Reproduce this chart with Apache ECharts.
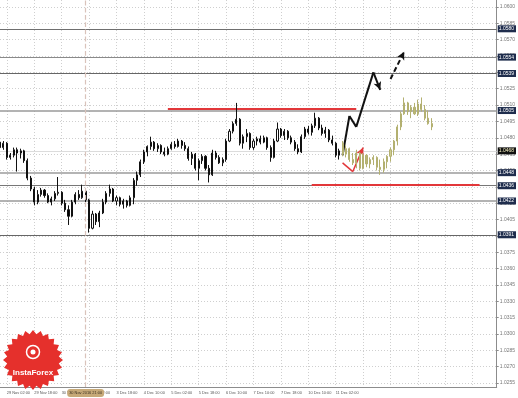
<!DOCTYPE html>
<html><head><meta charset="utf-8">
<script src="https://cdn.jsdelivr.net/npm/echarts@6/dist/echarts.min.js"></script>
<style>html,body{margin:0;padding:0;background:#fff}#c{width:518px;height:398px}</style>
</head><body><div id="c"></div>
<script>
// ---- data ----
const slotCount = 146;                // 2-hour slots across the chart
const firstLabelSlot = 2;
const labelEvery = 8;
const timeLabels = ['29 Nov 02:00','29 Nov 18:00','30 Nov 10:00','1 Dec 02:00','3 Dec 18:00','4 Dec 10:00',
  '5 Dec 02:00','5 Dec 18:00','6 Dec 10:00','7 Dec 10:00','7 Dec 18:00','10 Dec 10:00','11 Dec 02:00'];
const cursorSlot = 25;
const cursorLabel = '30 Nov 2016 21:00';
const yTicks = [1.0600,1.0585,1.0570,1.0555,1.0540,1.0525,1.0510,1.0495,1.0480,1.0465,1.0450,1.0435,
  1.0420,1.0405,1.0390,1.0375,1.0360,1.0345,1.0330,1.0315,1.0300,1.0285,1.0270,1.0255];
const yMin = 1.025133, yMax = 1.060642;

// [open, close, low, high]
const blackCandles = [
[1.0476,1.0471,1.0469,1.0478],[1.0471,1.0475,1.0469,1.0477],[1.0475,1.0462,1.0460,1.0476],[1.0462,1.0464,1.0460,1.0466],
[1.0464,1.0469,1.0462,1.0471],[1.0469,1.0466,1.0449,1.0471],[1.0466,1.0468,1.0461,1.0470],[1.0468,1.0459,1.0457,1.0469],
[1.0459,1.0443,1.0441,1.0461],[1.0443,1.0433,1.0431,1.0445],[1.0433,1.0421,1.0418,1.0435],[1.0421,1.0428,1.0419,1.0432],
[1.0428,1.0432,1.0426,1.0434],[1.0432,1.0427,1.0425,1.0433],[1.0427,1.0421,1.0420,1.0429],[1.0421,1.0424,1.0418,1.0426],
[1.0424,1.0429,1.0422,1.0431],[1.0429,1.0430,1.0427,1.0444],[1.0430,1.0420,1.0418,1.0431],[1.0420,1.0414,1.0412,1.0423],
[1.0414,1.0408,1.0400,1.0418],[1.0408,1.0421,1.0407,1.0423],[1.0421,1.0428,1.0419,1.0430],[1.0428,1.0425,1.0423,1.0432],
[1.0425,1.0431,1.0424,1.0437],[1.0431,1.0423,1.0421,1.0432],[1.0423,1.0397,1.0393,1.0424],[1.0397,1.0410,1.0396,1.0413],
[1.0410,1.0403,1.0400,1.0411],[1.0403,1.0411,1.0398,1.0413],[1.0411,1.0421,1.0410,1.0424],[1.0421,1.0429,1.0419,1.0431],
[1.0429,1.0433,1.0426,1.0437],[1.0433,1.0422,1.0421,1.0434],[1.0422,1.0425,1.0418,1.0427],[1.0425,1.0419,1.0417,1.0426],
[1.0419,1.0422,1.0415,1.0424],[1.0422,1.0418,1.0416,1.0423],[1.0418,1.0425,1.0417,1.0427],[1.0425,1.0441,1.0419,1.0443],
[1.0441,1.0446,1.0436,1.0449],[1.0446,1.0458,1.0444,1.0460],[1.0458,1.0467,1.0456,1.0469],[1.0467,1.0472,1.0463,1.0473],
[1.0472,1.0476,1.0469,1.0481],[1.0476,1.0470,1.0468,1.0477],[1.0470,1.0473,1.0467,1.0475],[1.0473,1.0467,1.0465,1.0474],
[1.0467,1.0465,1.0463,1.0471],[1.0465,1.0470,1.0464,1.0472],[1.0470,1.0474,1.0469,1.0476],[1.0474,1.0472,1.0470,1.0477],
[1.0472,1.0477,1.0471,1.0479],[1.0477,1.0473,1.0470,1.0478],[1.0473,1.0470,1.0468,1.0476],[1.0470,1.0461,1.0459,1.0472],
[1.0461,1.0465,1.0455,1.0467],[1.0465,1.0452,1.0450,1.0466],[1.0452,1.0459,1.0441,1.0461],[1.0459,1.0463,1.0456,1.0465],
[1.0463,1.0452,1.0450,1.0464],[1.0452,1.0446,1.0439,1.0455],[1.0446,1.0466,1.0445,1.0469],[1.0466,1.0462,1.0460,1.0468],
[1.0462,1.0457,1.0456,1.0464],[1.0457,1.0460,1.0454,1.0462],[1.0460,1.0477,1.0458,1.0479],[1.0477,1.0486,1.0476,1.0488],
[1.0486,1.0493,1.0484,1.0495],[1.0493,1.0497,1.0491,1.0512],[1.0497,1.0475,1.0473,1.0498],[1.0475,1.0481,1.0470,1.0483],
[1.0481,1.0484,1.0476,1.0488],[1.0484,1.0471,1.0469,1.0485],[1.0471,1.0477,1.0469,1.0479],[1.0477,1.0479,1.0473,1.0481],
[1.0479,1.0476,1.0474,1.0482],[1.0476,1.0480,1.0475,1.0482],[1.0480,1.0471,1.0469,1.0481],[1.0471,1.0462,1.0458,1.0473],
[1.0462,1.0477,1.0461,1.0479],[1.0477,1.0488,1.0476,1.0494],[1.0488,1.0482,1.0480,1.0489],[1.0482,1.0486,1.0478,1.0488],
[1.0486,1.0480,1.0478,1.0487],[1.0480,1.0476,1.0474,1.0482],[1.0476,1.0470,1.0468,1.0478],[1.0470,1.0467,1.0465,1.0474],
[1.0467,1.0481,1.0466,1.0483],[1.0481,1.0488,1.0479,1.0490],[1.0488,1.0485,1.0483,1.0491],[1.0485,1.0491,1.0482,1.0493],
[1.0491,1.0498,1.0489,1.0503],[1.0498,1.0489,1.0487,1.0499],[1.0489,1.0484,1.0482,1.0492],[1.0484,1.0487,1.0480,1.0490],
[1.0487,1.0478,1.0476,1.0488],[1.0478,1.0475,1.0473,1.0482],[1.0475,1.0464,1.0462,1.0476],[1.0464,1.0468,1.0460,1.0470]
];
const khakiStart = 100;
const khakiCandles = [
[1.0475,1.0465,1.0463,1.0477],[1.0465,1.0470,1.0462,1.0473],[1.0470,1.0460,1.0458,1.0471],[1.0460,1.0457,1.0455,1.0466],
[1.0457,1.0466,1.0452,1.0469],[1.0466,1.0452,1.0450,1.0467],[1.0452,1.0464,1.0451,1.0466],[1.0464,1.0456,1.0453,1.0465],
[1.0456,1.0460,1.0452,1.0462],[1.0460,1.0462,1.0455,1.0464],[1.0462,1.0453,1.0450,1.0463],[1.0453,1.0451,1.0446,1.0460],
[1.0451,1.0458,1.0448,1.0461],[1.0458,1.0463,1.0452,1.0464],[1.0463,1.0469,1.0458,1.0471],[1.0469,1.0477,1.0464,1.0478],
[1.0477,1.0490,1.0473,1.0492],[1.0490,1.0502,1.0487,1.0504],[1.0502,1.0512,1.0501,1.0517],[1.0512,1.0504,1.0501,1.0513],
[1.0504,1.0508,1.0498,1.0510],[1.0508,1.0502,1.0501,1.0512],[1.0502,1.0511,1.0500,1.0515],[1.0511,1.0506,1.0504,1.0517],
[1.0506,1.0498,1.0496,1.0510],[1.0498,1.0493,1.0492,1.0505],[1.0493,1.0490,1.0487,1.0498]
];
const levelValues = [1.0580, 1.0554, 1.0539, 1.0505, 1.0468, 1.0448, 1.0436, 1.0422, 1.0391];
const currentPrice = 1.0468;
// red horizontal lines: [fromSlot, toSlot, price]
const redLevels = [[49, 103.5, 1.0507], [90.5, 140, 1.0437]];
// forecast paths: [slot, price]
const blackPath = [[100, 1.0464], [102, 1.0500], [104, 1.0490], [109, 1.0540], [111, 1.0524]];
const dashedPath = [[114, 1.0534], [118, 1.0559]];
const redPath = [[99.5, 1.0457], [102.5, 1.0449], [105.5, 1.0471]];

// ---- styles ----
const levelStyle = {
  '1.0580': ['#6f6f6f', 1], '1.0554': ['#8a8a8a', 1], '1.0539': ['#666666', 1], '1.0505': ['#9a9a9a', 1.5],
  '1.0468': ['#dcdcdc', 1], '1.0448': ['#b4b4b4', 2], '1.0436': ['#777777', 1], '1.0422': ['#9a9a9a', 1.5], '1.0391': ['#666666', 1]
};
const FONT = 'Liberation Sans';

const categories = Array.from({length: slotCount}, (_, i) => String(i));
const isLabelSlot = i => i >= firstLabelSlot && (i - firstLabelSlot) % labelEvery === 0;
const khakiData = categories.map((_, i) => {
  const k = i - khakiStart;
  return (k >= 0 && k < khakiCandles.length) ? khakiCandles[k] : '-';
});

function pathSegments(path, color, width, dashed) {
  const segs = [];
  for (let k = 0; k < path.length - 1; k++) {
    const last = k === path.length - 2;
    const ls = {color, width, type: dashed ? [5, 3] : 'solid'};
    segs.push([
      {coord: path[k], symbol: 'none', lineStyle: ls},
      {coord: path[k + 1], symbol: last ? 'arrow' : 'none', symbolSize: last ? [6, 8] : 0, lineStyle: ls}
    ]);
  }
  return segs;
}

const markData = [];
levelValues.forEach(v => {
  const st = levelStyle[v.toFixed(4)] || ['#888', 1];
  const isCur = v === currentPrice;
  markData.push({
    yAxis: v, symbol: 'none',
    lineStyle: {color: st[0], width: st[1], type: 'solid'},
    label: {show: true, position: 'end', distance: 1, formatter: v.toFixed(4),
      backgroundColor: isCur ? '#101010' : '#1f2d4d', color: isCur ? '#f5f0c0' : '#ffffff',
      fontSize: 5, fontFamily: FONT, padding: [1, 2, 1, 1]}
  });
});
redLevels.forEach(r => {
  markData.push([
    {coord: [r[0], r[2]], symbol: 'none', lineStyle: {color: '#e2373a', width: 2, type: 'solid'}},
    {coord: [r[1], r[2]], symbol: 'none'}
  ]);
});
pathSegments(blackPath, '#111111', 2, false).forEach(s => markData.push(s));
pathSegments(dashedPath, '#111111', 2, true).forEach(s => markData.push(s));
pathSegments(redPath, '#e2373a', 1.5, false).forEach(s => markData.push(s));

// logo outline (decoration)
const logoPts = [];
for (let k = 0; k < 48; k++) {
  const a = k / 48 * Math.PI * 2;
  const r = k % 2 ? 26 : 30;
  logoPts.push([33 + r * Math.cos(a), 360 + r * Math.sin(a)]);
}

const chart = echarts.init(document.getElementById('c'), null, {renderer: 'canvas'});
chart.setOption({
  animation: false,
  backgroundColor: '#ffffff',
  grid: {left: 0, right: 18, top: 0, bottom: 11, containLabel: false},
  axisPointer: {triggerOn: 'none'},
  xAxis: {
    type: 'category', data: categories, boundaryGap: false,
    axisLine: {show: true, lineStyle: {color: '#8c8c8c', width: 1}},
    axisTick: {show: false},
    axisLabel: {
      interval: (i) => isLabelSlot(i) && (i - firstLabelSlot) / labelEvery < timeLabels.length,
      formatter: (v, i) => timeLabels[(i - firstLabelSlot) / labelEvery] || '',
      align: 'left', fontSize: 3.9, color: '#555', fontFamily: FONT, margin: 3.5
    },
    splitLine: {show: true, interval: (i) => isLabelSlot(i), lineStyle: {color: '#cfcfcf', type: [1, 2], width: 1}},
    axisPointer: {
      show: true, value: cursorSlot, status: 'show', type: 'line', snap: false,
      lineStyle: {color: '#d9c3bb', width: 1.2},
      label: {show: true, formatter: () => cursorLabel, backgroundColor: '#c6a978', color: '#3a3020',
        fontSize: 3.9, fontFamily: FONT, padding: [2, 2], margin: 2},
      handle: {show: false}
    }
  },
  yAxis: {
    type: 'value', position: 'right', min: yMin, max: yMax, scale: true,
    axisLine: {show: true, lineStyle: {color: '#8c8c8c', width: 1}},
    axisTick: {show: true, length: 2, lineStyle: {color: '#8c8c8c'}, customValues: yTicks},
    axisLabel: {customValues: yTicks, formatter: v => v.toFixed(4), fontSize: 5, color: '#777', fontFamily: FONT, margin: 3},
    splitLine: {show: true, lineStyle: {color: '#cfcfcf', type: [1, 2], width: 1}}
  },
  series: [
    {
      type: 'candlestick', name: 'price', data: blackCandles, barWidth: 1.6,
      itemStyle: {color: '#ffffff', color0: '#000000', borderColor: '#111111', borderColor0: '#111111', borderWidth: 1},
      markLine: {silent: true, symbol: ['none', 'none'], animation: false, precision: 4, data: markData, z: 1}
    },
    {
      type: 'candlestick', name: 'pattern', data: khakiData, barWidth: 1.6,
      itemStyle: {color: '#cfcd93', color0: '#b9b674', borderColor: '#b3b070', borderColor0: '#b3b070', borderWidth: 1}
    }
  ],
  graphic: [
    {type: 'polygon', z: 100, shape: {points: logoPts}, style: {fill: '#e5302c'}},
    {type: 'circle', z: 101, shape: {cx: 33, cy: 352, r: 6.5}, style: {fill: 'none', stroke: '#ffffff', lineWidth: 1.5}},
    {type: 'circle', z: 101, shape: {cx: 33, cy: 352, r: 2.5}, style: {fill: '#ffffff'}},
    {type: 'text', z: 101, style: {text: 'InstaForex', x: 33, y: 373, fill: '#ffffff',
      font: 'bold 8px Liberation Sans', align: 'center', verticalAlign: 'middle'}}
  ]
});
</script>
</body></html>
